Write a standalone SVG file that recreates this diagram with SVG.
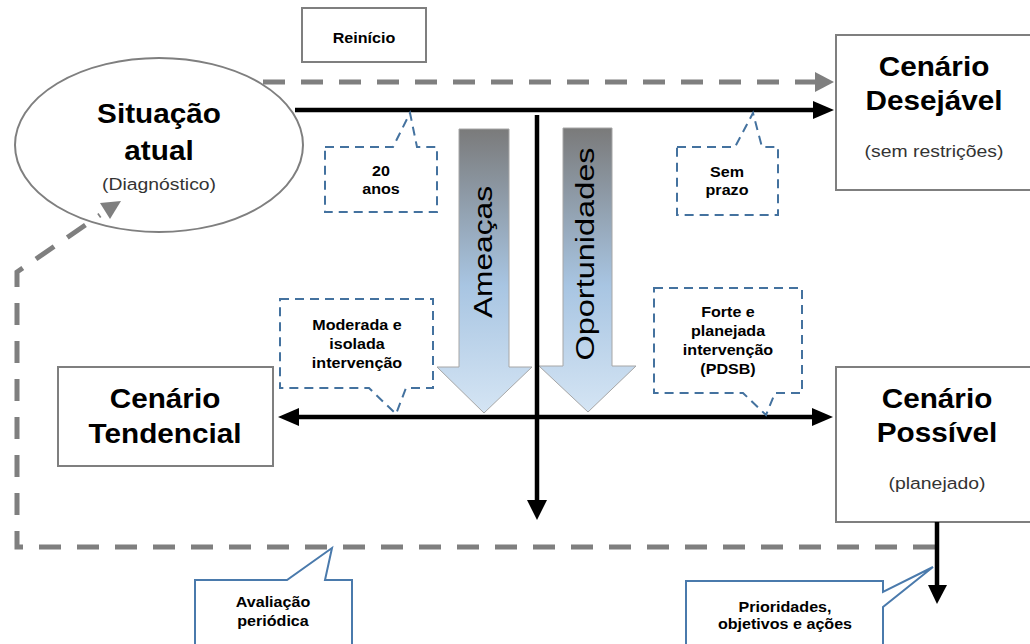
<svg xmlns="http://www.w3.org/2000/svg" width="1030" height="644" viewBox="0 0 1030 644">
<defs>
<style>
.box{fill:#fff;stroke:#7f7f7f;stroke-width:2}
.t{font-family:"Liberation Sans",Arial,sans-serif;text-anchor:middle;fill:#000}
.title{font-size:27px;font-weight:bold}
.sub{font-size:17px;fill:#333}
.note{font-size:14px;font-weight:bold}
.vert{font-size:26px}
.dcall{fill:#fff;stroke:#44729f;stroke-width:2;stroke-dasharray:9 6}
.scall{fill:#fff;stroke:#4a7aac;stroke-width:2}
.gdash{fill:none;stroke:#7f7f7f;stroke-width:5;stroke-dasharray:22 16}
.blk{fill:none;stroke:#000;stroke-width:4.5}
.ghead{fill:#7f7f7f}
.bhead{fill:#000}
.swot{fill:url(#grad);stroke:#a6a6a6;stroke-width:1}
</style>
<linearGradient id="grad" gradientUnits="userSpaceOnUse" x1="0" y1="128" x2="0" y2="414">
<stop offset="0" stop-color="#7a7a7a"/>
<stop offset="0.55" stop-color="#a8c5e2"/>
<stop offset="1" stop-color="#d5e5f4"/>
</linearGradient>
</defs>
<rect width="1030" height="644" fill="#fff"/>

<g id="node-situacao">
<ellipse cx="159" cy="145" rx="144" ry="87" class="box"/>
<text class="t title" transform="translate(159 0) scale(1.1 1)"><tspan x="0" y="123">Situação</tspan><tspan x="0" y="160">atual</tspan></text>
<text class="t sub" transform="translate(159 0) scale(1.14 1)" x="0" y="190">(Diagnóstico)</text>
</g>

<g id="node-reinicio">
<rect x="302" y="8" width="124" height="54" class="box"/>
<text class="t note" transform="translate(364 0) scale(1.15 1)" x="0" y="43">Reinício</text>
</g>

<g id="node-desejavel">
<rect x="836" y="35" width="200" height="155" class="box"/>
<text class="t title" transform="translate(934 0) scale(1.1 1)"><tspan x="0" y="76">Cenário</tspan><tspan x="0" y="110">Desejável</tspan></text>
<text class="t sub" transform="translate(934 0) scale(1.14 1)" x="0" y="157">(sem restrições)</text>
</g>

<g id="node-tendencial">
<rect x="58" y="367" width="215" height="99" class="box"/>
<text class="t title" transform="translate(165 0) scale(1.1 1)"><tspan x="0" y="408">Cenário</tspan><tspan x="0" y="443">Tendencial</tspan></text>
</g>

<g id="node-possivel">
<rect x="836" y="367" width="200" height="155" class="box"/>
<text class="t title" transform="translate(937 0) scale(1.1 1)"><tspan x="0" y="408">Cenário</tspan><tspan x="0" y="442">Possível</tspan></text>
<text class="t sub" transform="translate(937 0) scale(1.14 1)" x="0" y="489">(planejado)</text>
</g>

<g id="node-ameacas">
<polygon class="swot" points="459,129 509,129 509,367 532,367 484,413 437,367 459,367"/>
<text class="t vert" transform="translate(492 252) rotate(-90) scale(1.22 1)" x="0" y="0">Ameaças</text>
</g>

<g id="node-oportunidades">
<polygon class="swot" points="563,128 612,128 612,366 636,366 588,412 539,366 563,366"/>
<text class="t vert" transform="translate(594 254) rotate(-90) scale(1.25 1)" x="0" y="0">Oportunidades</text>
</g>

<g id="connectors">
<path class="gdash" d="M263,82 H816"/>
<polygon class="ghead" points="815,72 834,82 815,92"/>
<path class="gdash" d="M935,547 H17 V272 L100,215"/>
<polygon class="ghead" points="100,203 121,201 110,219"/>
<path class="blk" d="M295,110 H815"/>
<polygon class="bhead" points="813,101 834,110 813,119"/>
<path class="blk" d="M537,115 V502"/>
<polygon class="bhead" points="527,500 547,500 537,520"/>
<path class="blk" d="M297,417 H815"/>
<polygon class="bhead" points="299,408 278,417 299,426"/>
<polygon class="bhead" points="812,408 833,417 812,426"/>
<path class="blk" d="M937,522 V587"/>
<polygon class="bhead" points="928,585 947,585 937,604"/>
</g>

<g id="callout-20anos">
<path class="dcall" d="M325,147 H393 L410,113 L417,147 H437 V212 H325 Z"/>
<text class="t note" transform="translate(381 0) scale(1.15 1)"><tspan x="0" y="176">20</tspan><tspan x="0" y="194">anos</tspan></text>
</g>

<g id="callout-semprazo">
<path class="dcall" d="M677,147 H735 L753,113 L762,147 H778 V215 H677 Z"/>
<text class="t note" transform="translate(727 0) scale(1.15 1)"><tspan x="0" y="177">Sem</tspan><tspan x="0" y="195">prazo</tspan></text>
</g>

<g id="callout-moderada">
<path class="dcall" d="M280,299 H433 V388 H406 L396,414 L369,388 H280 Z"/>
<text class="t note" transform="translate(357 0) scale(1.15 1)"><tspan x="0" y="330">Moderada e</tspan><tspan x="0" y="349">isolada</tspan><tspan x="0" y="368">intervenção</tspan></text>
</g>

<g id="callout-forte">
<path class="dcall" d="M654,288 H802 V393 H775 L766,415 L743,393 H654 Z"/>
<text class="t note" transform="translate(728 0) scale(1.15 1)"><tspan x="0" y="317">Forte e</tspan><tspan x="0" y="336">planejada</tspan><tspan x="0" y="355">intervenção</tspan><tspan x="0" y="374">(PDSB)</tspan></text>
</g>

<g id="callout-avaliacao">
<path class="scall" d="M195,650 V580 H287 L332,548 L325,580 H352 V650"/>
<text class="t note" transform="translate(273 0) scale(1.15 1)"><tspan x="0" y="607">Avaliação</tspan><tspan x="0" y="626">periódica</tspan></text>
</g>

<g id="callout-prioridades">
<path class="scall" d="M686,650 V581 H883 V592 L933,567 L883,607 V650"/>
<text class="t note" transform="translate(785 0) scale(1.15 1)"><tspan x="0" y="612">Prioridades,</tspan><tspan x="0" y="629">objetivos e ações</tspan></text>
</g>
</svg>
